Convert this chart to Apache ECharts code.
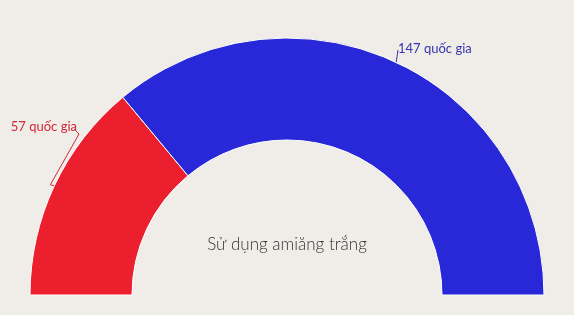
<!DOCTYPE html>
<html>
<head>
<meta charset="utf-8">
<style>
  html, body { margin: 0; padding: 0; background: #f0ede8; }
  #chart { width: 574px; height: 315px; }
</style>
<script src="https://cdn.jsdelivr.net/npm/echarts@6/dist/echarts.min.js"></script>
</head>
<body>
<div id="chart"></div>
<script>
var names  = ['Sử dụng', 'Cấm'];
var values = [57, 147];
var colors = ['#ec1f2f', '#2828d8'];
var labelColors = ['#d0283a', '#3535b0'];
var unit   = ' quốc gia';
var title  = 'Sử dụng amiăng trắng';
// where each label sits (px)
var labelPos = [
    { x: 77, y: 127, align: 'right' },
    { x: 398, y: 49, align: 'left' }
];

var chart = echarts.init(document.getElementById('chart'));
var data = [];
for (var i = 0; i < values.length; i++) {
    data.push({
        name: names[i],
        value: values[i],
        itemStyle: { color: colors[i] },
        label: { color: labelColors[i] },
        labelLine: { lineStyle: { color: labelColors[i] } }
    });
}

var option = {
    backgroundColor: '#f0ede8',
    animation: false,
    title: {
        text: title,
        left: 'center',
        top: 231,
        textStyle: {
            fontFamily: 'Lato',
            fontWeight: 300,
            fontSize: 17,
            color: '#333'
        }
    },
    series: [{
        type: 'pie',
        center: [287, 295],
        radius: [155, 257],
        startAngle: 180,
        endAngle: 0,
        clockwise: true,
        itemStyle: { borderColor: '#ffffff', borderWidth: 1 },
        label: {
            show: true,
            position: 'outside',
            overflow: 'none',
            formatter: function (p) { return p.value + unit; },
            fontFamily: 'Lato',
            fontSize: 13
        },
        labelLine: {
            show: true,
            length: 6,
            length2: 4,
            lineStyle: { width: 1 }
        },
        labelLayout: function (p) {
            var pos = labelPos[p.dataIndex];
            var out = { x: pos.x, y: pos.y, align: pos.align, verticalAlign: 'middle' };
            var start = p.labelLinePoints && p.labelLinePoints[0];
            if (start && p.dataIndex === 0) {
                // bracket-like leader hugging the arc
                out.labelLinePoints = [
                    start,
                    [start[0] - 4, start[1] - 1],
                    [pos.x + 2, pos.y + 7],
                    [pos.x - 3, pos.y + 2]
                ];
            } else if (start) {
                out.labelLinePoints = [start, [pos.x, pos.y + 1]];
            }
            return out;
        },
        data: data
    }]
};

chart.setOption(option);
</script>
</body>
</html>
